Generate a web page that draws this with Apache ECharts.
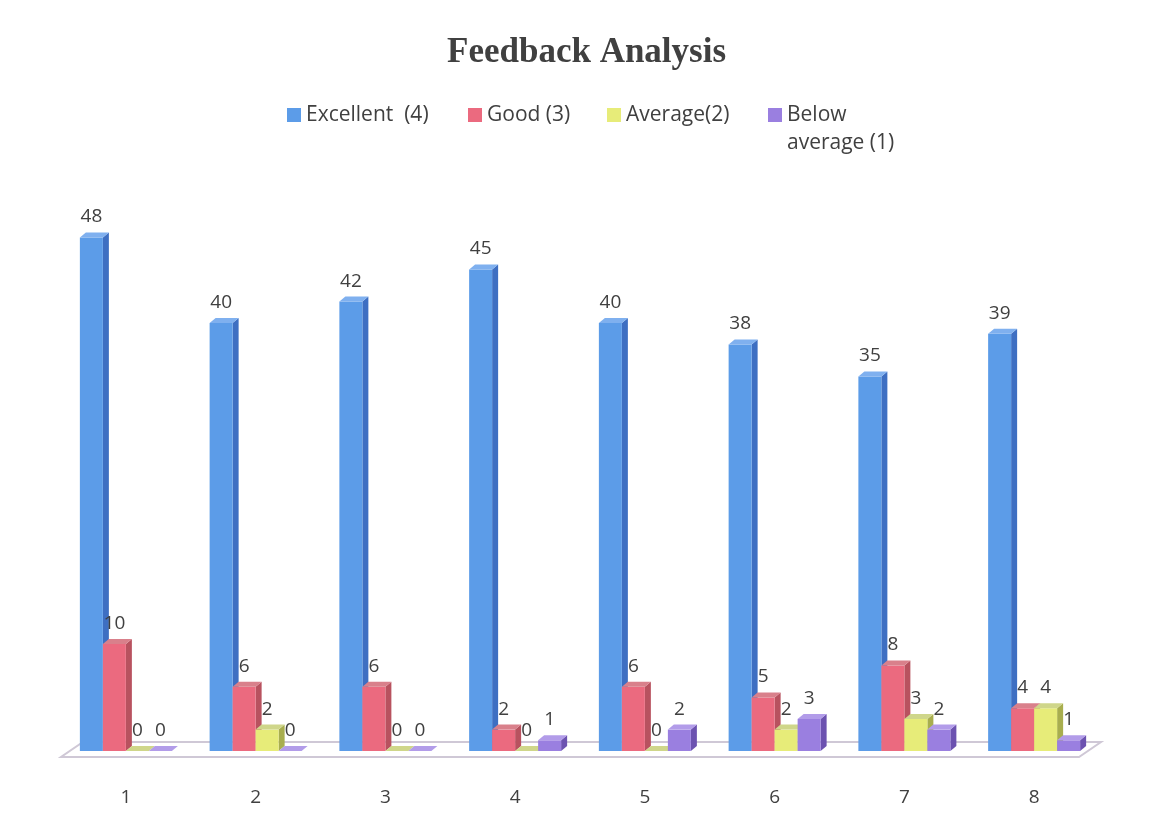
<!DOCTYPE html>
<html>
<head>
<meta charset="utf-8">
<script src="https://cdn.jsdelivr.net/npm/echarts@6/dist/echarts.min.js"></script>
<style>
    html, body { margin: 0; padding: 0; background: #fff; }
    #chart { width: 1155px; height: 839px; }
</style>
</head>
<body>
<div id="chart"></div>
<script>
// feedback counts per question
var categories = ['1', '2', '3', '4', '5', '6', '7', '8']
var seriesNames = ['Excellent  (4)', 'Good (3)', 'Average(2)', 'Below average (1)']
var excellent = [48, 40, 42, 45, 40, 38, 35, 39]
var good = [10, 6, 6, 2, 6, 5, 8, 4]
var average = [0, 2, 0, 0, 0, 2, 3, 4]
var belowAverage = [0, 0, 0, 1, 2, 3, 2, 1]

var allValues = [excellent, good, average, belowAverage]
// front / side / top shades for the fake 3d look
var palette = [
    ['#5c9ce8', '#3e6fc2', '#7fb0ef'],
    ['#eb6a7f', '#b8525f', '#d9808b'],
    ['#e7ec79', '#a8ae4e', '#cfd68a'],
    ['#9a7fe0', '#6c52b0', '#b29ce9']
]

var barW = 23
var depthX = 6
var depthY = 5

function make3dBar(k) {
    return function (params, api) {
        var base = api.coord([api.value(0), 0])
        var top = api.coord([api.value(0), api.value(1)])
        var x0 = base[0] - 2 * barW + k * barW
        var x1 = x0 + barW
        var yb = base[1]
        var yt = top[1]
        var c = palette[k]
        return {
            type: 'group',
            children: [
                {
                    type: 'polygon',
                    shape: { points: [[x1, yb], [x1 + depthX, yb - depthY], [x1 + depthX, yt - depthY], [x1, yt]] },
                    style: { fill: c[1] }
                },
                {
                    type: 'rect',
                    shape: { x: x0, y: yt, width: barW, height: yb - yt },
                    style: { fill: c[0] }
                },
                {
                    type: 'polygon',
                    shape: { points: [[x0, yt], [x0 + depthX, yt - depthY], [x1 + depthX, yt - depthY], [x1, yt]] },
                    style: { fill: c[2] }
                },
                {
                    type: 'text',
                    style: {
                        text: String(api.value(1)),
                        x: (x0 + x1) / 2,
                        y: yt - 11,
                        align: 'center',
                        verticalAlign: 'bottom',
                        fill: '#404040',
                        font: '19px "Open Sans", sans-serif'
                    }
                }
            ]
        }
    }
}

var series = [
    {
        // floor plate under the bars
        type: 'custom',
        silent: true,
        z: 1,
        data: [[0, 0]],
        renderItem: function (params, api) {
            var cs = params.coordSys
            var yb = cs.y + cs.height
            return {
                type: 'polygon',
                shape: {
                    points: [
                        [cs.x, yb + 6],
                        [cs.x + cs.width - 20, yb + 6],
                        [cs.x + cs.width + 2, yb - 9],
                        [cs.x + 22, yb - 9]
                    ]
                },
                style: { fill: '#fff', stroke: '#cfc8d6', lineWidth: 2 }
            }
        }
    }
]

allValues.forEach(function (vals, k) {
    series.push({
        name: seriesNames[k],
        type: 'custom',
        z: 2,
        itemStyle: { color: palette[k][0] },
        renderItem: make3dBar(k),
        encode: { x: 0, y: 1 },
        data: vals.map(function (v, i) { return [i, v] })
    })
})

var legendLeft = [282, 463, 602, 763]

// one legend per entry so the wrapped last entry keeps its icon on the first line
var legends = seriesNames.map(function (name, k) {
    var twoLines = name === 'Below average (1)'
    return {
        top: twoLines ? 68 : 96,
        left: legendLeft[k],
        itemWidth: 14,
        itemHeight: 14,
        icon: 'rect',
        data: [name],
        formatter: function (n) {
            // empty first line centres the icon on "Below"
            return twoLines ? '\nBelow\naverage (1)' : n
        },
        textStyle: {
            fontFamily: '"Open Sans", sans-serif',
            fontSize: 21,
            color: '#404040',
            lineHeight: 28
        }
    }
})

var myChart = echarts.init(document.getElementById('chart'))

var option = {
    backgroundColor: '#fff',
    animation: false,
    title: {
        text: 'Feedback Analysis',
        left: 442,
        top: 30,
        textStyle: {
            fontFamily: '"Liberation Serif", serif',
            fontSize: 35,
            fontWeight: 'bold',
            color: '#404040'
        }
    },
    legend: legends,
    grid: {
        left: 61,
        right: 56,
        top: 216,
        bottom: 88
    },
    xAxis: {
        type: 'category',
        data: categories,
        axisLine: { show: false },
        axisTick: { show: false },
        axisLabel: {
            margin: 37,
            fontFamily: '"Open Sans", sans-serif',
            fontSize: 19,
            color: '#404040'
        }
    },
    yAxis: {
        type: 'value',
        min: 0,
        max: 50,
        show: false
    },
    series: series
}

myChart.setOption(option)
</script>
</body>
</html>
